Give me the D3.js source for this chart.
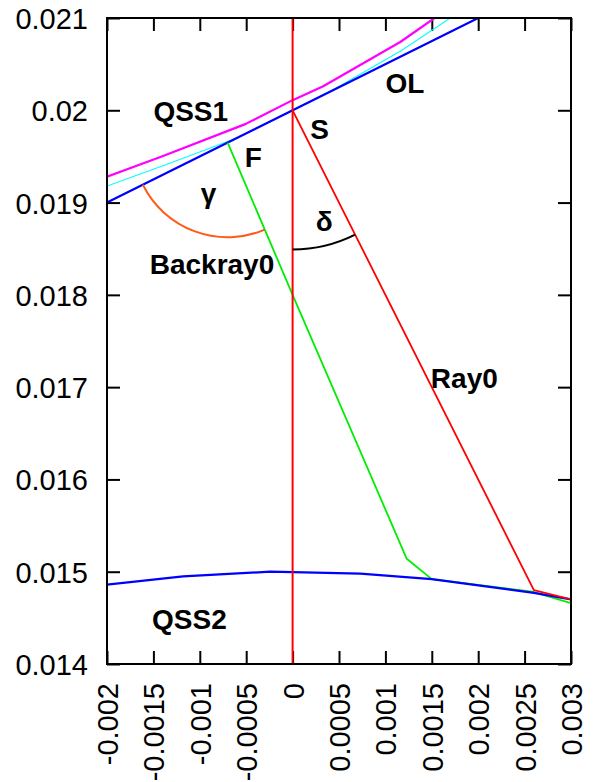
<!DOCTYPE html>
<html>
<head>
<meta charset="utf-8">
<script src="https://cdn.jsdelivr.net/npm/d3@7"></script>
<style>
  html, body { margin: 0; padding: 0; background: #fff; }
  svg { display: block; }
  text { font-family: "Liberation Sans", Arial, sans-serif; fill: #000; }
</style>
</head>
<body>
<script>
// Axis ticks and their printed labels
const xTicks = [-0.002, -0.0015, -0.001, -0.0005, 0, 0.0005, 0.001, 0.0015, 0.002, 0.0025, 0.003];
const xTickLabels = ["-0.002", "-0.0015", "-0.001", "-0.0005", "0", "0.0005", "0.001", "0.0015", "0.002", "0.0025", "0.003"];
const yTicks = [0.014, 0.015, 0.016, 0.017, 0.018, 0.019, 0.02, 0.021];
const yTickLabels = ["0.014", "0.015", "0.016", "0.017", "0.018", "0.019", "0.02", "0.021"];

// Curves (x, y)
const qss1 = [[-0.002, 0.01928], [-0.00141, 0.0195], [-0.00051, 0.01985], [0, 0.02011], [0.00033, 0.02026], [0.00116, 0.02074], [0.00153, 0.021]];
const qss1Approx = [[-0.002, 0.01918], [-0.001375, 0.019406], [-0.0006, 0.0197], [0.0004, 0.0202], [0.00116, 0.02064], [0.0017, 0.021]];
const ol = [[-0.002, 0.019], [0.002, 0.021]];
const qss2 = [[-0.002, 0.01486], [-0.00118, 0.01495], [-0.00024, 0.015], [0.00073, 0.01498], [0.0015, 0.01492], [0.0026, 0.01477], [0.003, 0.0147]];
const axisLine = [[0, 0.014], [0, 0.021]];
const ray0 = [[0, 0.02], [0.0026, 0.0148], [0.003, 0.0147]];
const backray0 = [[-0.0007, 0.01965], [0, 0.018], [0.00123, 0.01514], [0.0015, 0.01492], [0.0026, 0.01478], [0.003, 0.01466]];

// Angle arcs: centre, radius (x units), and a point on each bounding line
const angleArcs = [
  { center: backray0[0], radius: 0.00102, a: backray0[1], b: ol[0], color: "#ff5a1a" },
  { center: ray0[0], radius: 0.0015, a: axisLine[0], b: ray0[1], color: "#000000" }
];

// Annotations (x, y of the text baseline start)
const labels = [
  { text: "QSS1", x: -0.0015, y: 0.01988 },
  { text: "OL", x: 0.001, y: 0.020183 },
  { text: "S", x: 0.00019, y: 0.019685 },
  { text: "F", x: -0.000516, y: 0.019388 },
  { text: "γ", x: -0.00099, y: 0.018995 },
  { text: "δ", x: 0.00025, y: 0.018691 },
  { text: "Backray0", x: -0.00154, y: 0.018222 },
  { text: "Ray0", x: 0.00149, y: 0.016987 },
  { text: "QSS2", x: -0.001515, y: 0.014379 }
];

const W = 607, H = 782;
const plotLeft = 107, plotRight = 571, plotTop = 18, plotBottom = 664;
const tickLen = 13;
const tickFont = "29px";

const x = d3.scaleLinear().domain([-0.002, 0.003]).range([plotLeft, plotRight]);
const y = d3.scaleLinear().domain([0.014, 0.021]).range([plotBottom, plotTop]);

const svg = d3.select("body").append("svg").attr("width", W).attr("height", H);

svg.append("defs").append("clipPath").attr("id", "plot-clip")
  .append("rect").attr("x", plotLeft).attr("y", plotTop)
  .attr("width", plotRight - plotLeft).attr("height", plotBottom - plotTop);

// Inward ticks on all four sides
function styleAxis(g) {
  g.select(".domain").remove();
  g.selectAll(".tick line").attr("stroke", "#000").attr("stroke-width", 2);
}

svg.append("g").attr("transform", `translate(0,${plotBottom})`)
  .call(d3.axisBottom(x).tickValues(xTicks).tickSizeInner(-tickLen).tickSizeOuter(0)
    .tickFormat((d, i) => xTickLabels[i]))
  .call(styleAxis)
  .call(g => g.selectAll(".tick text")
    .attr("transform", "rotate(-90)")
    .attr("text-anchor", "end")
    .attr("x", -19).attr("y", 0).attr("dy", "0.36em")
    .style("font-size", tickFont));

svg.append("g").attr("transform", `translate(0,${plotTop})`)
  .call(d3.axisTop(x).tickValues(xTicks).tickSizeInner(-tickLen).tickSizeOuter(0).tickFormat(""))
  .call(styleAxis);

svg.append("g").attr("transform", `translate(${plotLeft},0)`)
  .call(d3.axisLeft(y).tickValues(yTicks).tickSizeInner(-tickLen).tickSizeOuter(0).tickPadding(19)
    .tickFormat((d, i) => yTickLabels[i]))
  .call(styleAxis)
  .call(g => g.selectAll(".tick text").attr("dy", "0.36em").style("font-size", tickFont));

svg.append("g").attr("transform", `translate(${plotRight},0)`)
  .call(d3.axisRight(y).tickValues(yTicks).tickSizeInner(-tickLen).tickSizeOuter(0).tickFormat(""))
  .call(styleAxis);

svg.selectAll(".tick text").attr("fill", "#000").style("font-family", "'Liberation Sans', Arial, sans-serif");

// Curves
const line = d3.line().x(d => x(d[0])).y(d => y(d[1]));
const plot = svg.append("g").attr("clip-path", "url(#plot-clip)");

const series = [
  { data: qss1Approx, color: "#00ffff", width: 1.1 },
  { data: qss1, color: "#ff00ff", width: 2.2 },
  { data: ol, color: "#0000ff", width: 2.2 },
  { data: backray0, color: "#00ee00", width: 1.8 },
  { data: qss2, color: "#0000ff", width: 2.2 },
  { data: axisLine, color: "#ff0000", width: 2 },
  { data: ray0, color: "#ff0000", width: 1.8 }
];

plot.selectAll("path.curve").data(series).join("path")
  .attr("class", "curve")
  .attr("d", d => line(d.data))
  .attr("fill", "none")
  .attr("stroke", d => d.color)
  .attr("stroke-width", d => d.width)
  .attr("stroke-linejoin", "round");

// Angle arcs between two lines meeting at a centre point
function arcPath(arc) {
  const cx = x(arc.center[0]), cy = y(arc.center[1]);
  const r = x(arc.center[0] + arc.radius) - cx;
  let a1 = Math.atan2(y(arc.a[1]) - cy, x(arc.a[0]) - cx);
  let a2 = Math.atan2(y(arc.b[1]) - cy, x(arc.b[0]) - cx);
  if (a2 < a1) [a1, a2] = [a2, a1];
  const p = d3.path();
  if (a2 - a1 <= Math.PI) {
    p.moveTo(cx + r * Math.cos(a1), cy + r * Math.sin(a1));
    p.arc(cx, cy, r, a1, a2, false);
  } else {
    p.moveTo(cx + r * Math.cos(a2), cy + r * Math.sin(a2));
    p.arc(cx, cy, r, a2, a1 + 2 * Math.PI, false);
  }
  return p.toString();
}

plot.selectAll("path.angle").data(angleArcs).join("path")
  .attr("class", "angle")
  .attr("d", arcPath)
  .attr("fill", "none")
  .attr("stroke", d => d.color)
  .attr("stroke-width", 2);

// Frame
svg.append("rect")
  .attr("x", plotLeft).attr("y", plotTop)
  .attr("width", plotRight - plotLeft).attr("height", plotBottom - plotTop)
  .attr("fill", "none").attr("stroke", "#000").attr("stroke-width", 2);

// Annotations
svg.selectAll("text.note").data(labels).join("text")
  .attr("class", "note")
  .attr("x", d => x(d.x))
  .attr("y", d => y(d.y))
  .style("font-size", "28px")
  .style("font-weight", "bold")
  .text(d => d.text);
</script>
</body>
</html>
